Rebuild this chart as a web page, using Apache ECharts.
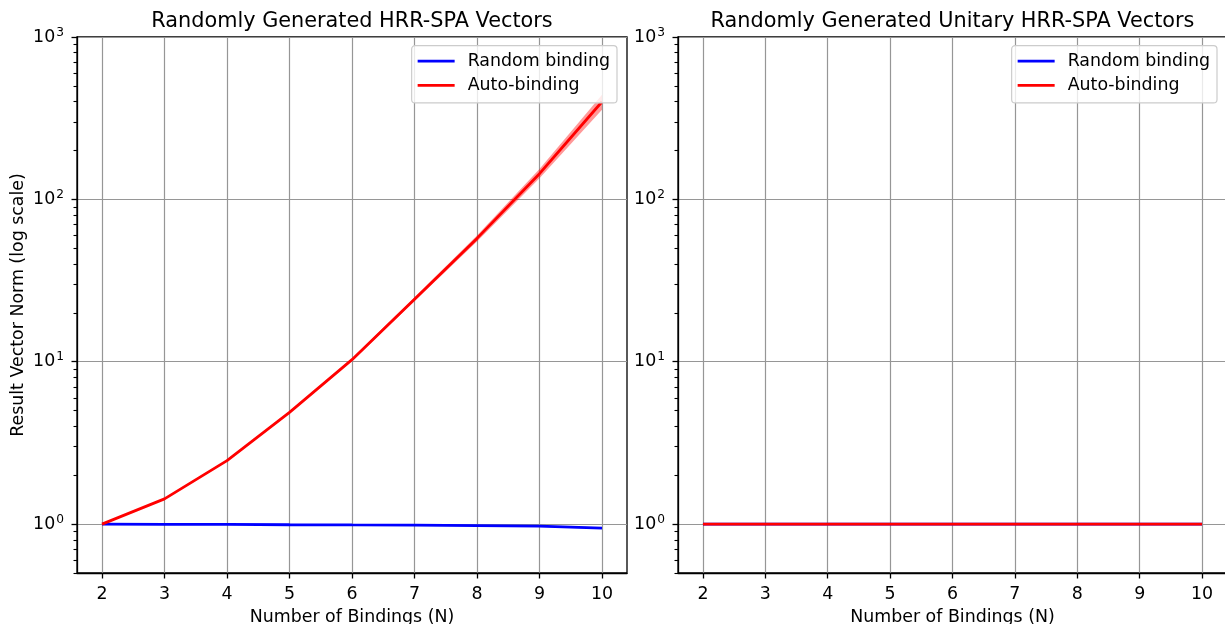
<!DOCTYPE html>
<html>
<head>
<meta charset="utf-8">
<script src="https://cdn.jsdelivr.net/npm/echarts@6/dist/echarts.min.js"></script>
<style>
  html, body { margin: 0; padding: 0; background: #fff; }
  #chart { width: 1225px; height: 624px; }
</style>
</head>
<body>
<div id="chart"></div>
<script>
// Number of bindings on the x axis
const bindings = [2, 3, 4, 5, 6, 7, 8, 9, 10];

// Left panel: random HRR-SPA vectors (mean and +/- one std band)
const randomMean = [1.0, 0.996, 0.997, 0.991, 0.988, 0.987, 0.979, 0.971, 0.945];
const randomLow  = [1.0, 0.992, 0.992, 0.985, 0.981, 0.979, 0.970, 0.961, 0.933];
const randomHigh = [1.0, 1.000, 1.002, 0.997, 0.995, 0.995, 0.988, 0.981, 0.957];

const autoMean = [1.0, 1.43, 2.46, 4.88, 10.3, 24.3, 57.5, 144, 399];
const autoLow  = [1.0, 1.42, 2.43, 4.80, 10.1, 23.6, 55.0, 135, 357];
const autoHigh = [1.0, 1.44, 2.49, 4.96, 10.5, 25.0, 60.0, 154, 441];

// Right panel: unitary vectors keep a norm of one
const unitRandomMean = [1, 1, 1, 1, 1, 1, 1, 1, 1];
const unitAutoMean   = [1, 1, 1, 1, 1, 1, 1, 1, 1];

// Tick values
const xTicks = [2, 3, 4, 5, 6, 7, 8, 9, 10];
const yMajorTicks = [1, 10, 100, 1000];
const yMinorTicks = [0.5, 0.6, 0.7, 0.8, 0.9,
  2, 3, 4, 5, 6, 7, 8, 9,
  20, 30, 40, 50, 60, 70, 80, 90,
  200, 300, 400, 500, 600, 700, 800, 900];

const seriesNames = ['Random binding', 'Auto-binding'];
const titles = ['Randomly Generated HRR-SPA Vectors', 'Randomly Generated Unitary HRR-SPA Vectors'];

const FONT = 'DejaVu Sans';
const BLUE = '#0000ff';
const RED = '#ff0000';
const GRID_LINE = '#969696';

const pairs = (ys) => bindings.map((x, i) => [x, ys[i]]);

function bandSeries(xi, yi, low, high, color) {
  return {
    type: 'custom',
    xAxisIndex: xi,
    yAxisIndex: yi,
    silent: true,
    data: [[bindings[0], low[0]]],
    renderItem: function (params, api) {
      const pts = [];
      for (let i = 0; i < bindings.length; i++) pts.push(api.coord([bindings[i], high[i]]));
      for (let i = bindings.length - 1; i >= 0; i--) pts.push(api.coord([bindings[i], low[i]]));
      return { type: 'polygon', shape: { points: pts }, style: { fill: color, stroke: null } };
    }
  };
}

function lineSeries(name, xi, yi, ys, color) {
  return {
    name: name,
    type: 'line',
    xAxisIndex: xi,
    yAxisIndex: yi,
    data: pairs(ys),
    showSymbol: false,
    symbol: 'none',
    lineStyle: { color: color, width: 2.8 },
    itemStyle: { color: color },
    emphasis: { disabled: true },
    silent: true
  };
}

function xAxis(gridIndex) {
  return {
    type: 'value',
    gridIndex: gridIndex,
    position: 'bottom',
    min: 1.6,
    max: 10.4,
    name: 'Number of Bindings (N)',
    nameLocation: 'middle',
    nameGap: 36,
    nameTextStyle: { fontFamily: FONT, fontSize: 17.4, color: '#000' },
    axisLine: { show: true, onZero: false, lineStyle: { color: '#000', width: 1.3 } },
    axisTick: { show: true, length: 5.5, customValues: xTicks, lineStyle: { color: '#000', width: 1.3 } },
    axisLabel: { customValues: xTicks, margin: 13, fontFamily: FONT, fontSize: 17.4, color: '#000' },
    splitLine: { show: true, lineStyle: { color: GRID_LINE, width: 1.2 } }
  };
}

function yMajorAxis(gridIndex, withName) {
  return {
    type: 'log',
    logBase: 10,
    gridIndex: gridIndex,
    position: 'left',
    min: 0.5,
    max: 1000,
    name: withName ? 'Result Vector Norm (log scale)' : '',
    nameLocation: 'middle',
    nameGap: 50,
    nameRotate: 90,
    nameTextStyle: { fontFamily: FONT, fontSize: 17.4, color: '#000' },
    axisLine: { show: true, lineStyle: { color: '#000', width: 1.3 } },
    axisTick: { show: true, length: 5.5, customValues: yMajorTicks, lineStyle: { color: '#000', width: 1.3 } },
    axisLabel: {
      customValues: yMajorTicks,
      margin: 13,
      color: '#000',
      formatter: function (v) {
        const e = Math.round(Math.log10(v));
        return '{b|10}{s|' + e + '}';
      },
      rich: {
        b: { fontFamily: FONT, fontSize: 17.4, color: '#000' },
        s: { fontFamily: FONT, fontSize: 12.2, color: '#000', padding: [0, 0, 9, 1] }
      }
    },
    splitLine: { show: true, lineStyle: { color: GRID_LINE, width: 1.2 } },
    minorTick: { show: false },
    minorSplitLine: { show: false }
  };
}

function yMinorAxis(gridIndex) {
  return {
    type: 'log',
    logBase: 10,
    gridIndex: gridIndex,
    position: 'left',
    offset: 0,
    min: 0.5,
    max: 1000,
    axisLine: { show: false },
    axisTick: { show: true, length: 3.5, customValues: yMinorTicks, lineStyle: { color: '#000', width: 1.1 } },
    axisLabel: { show: false },
    splitLine: { show: false }
  };
}

function legend(right) {
  return {
    data: seriesNames,
    orient: 'vertical',
    right: right,
    top: 45.7,
    icon: 'rect',
    itemWidth: 37,
    itemHeight: 2.8,
    itemGap: 3.6,
    selectedMode: false,
    padding: [5.2, 7, 7.2, 6],
    backgroundColor: 'rgba(255,255,255,0.8)',
    borderColor: '#cccccc',
    borderWidth: 1.2,
    borderRadius: 3.5,
    textStyle: { fontFamily: FONT, fontSize: 17.4, color: '#000', lineHeight: 20.6, padding: [0, 0, 0, 8] }
  };
}

const chart = echarts.init(document.getElementById('chart'), null, { renderer: 'canvas' });

const gridBase = {
  top: 37, height: 536, show: true, borderColor: '#000', borderWidth: 1.3,
  backgroundColor: 'transparent', containLabel: false, outerBoundsMode: 'none'
};

chart.setOption({
  animation: false,
  backgroundColor: '#fff',
  textStyle: { fontFamily: FONT },
  grid: [
    Object.assign({ left: 77, width: 550 }, gridBase),
    Object.assign({ left: 678, width: 549 }, gridBase)
  ],
  graphic: [
    { type: 'text', x: 352, y: 11, style: { text: titles[0], fontFamily: FONT, fontSize: 20.8, fill: '#000', align: 'center', verticalAlign: 'top' } },
    { type: 'text', x: 952.5, y: 11, style: { text: titles[1], fontFamily: FONT, fontSize: 20.8, fill: '#000', align: 'center', verticalAlign: 'top' } }
  ],
  legend: [legend(608), legend(8)],
  xAxis: [xAxis(0), xAxis(1)],
  yAxis: [yMajorAxis(0, true), yMinorAxis(0), yMajorAxis(1, false), yMinorAxis(1)],
  series: [
    bandSeries(0, 0, randomLow, randomHigh, 'rgba(0,0,255,0.35)'),
    bandSeries(0, 0, autoLow, autoHigh, 'rgba(255,0,0,0.4)'),
    lineSeries(seriesNames[0], 0, 0, randomMean, BLUE),
    lineSeries(seriesNames[1], 0, 0, autoMean, RED),
    lineSeries(seriesNames[0], 1, 2, unitRandomMean, BLUE),
    lineSeries(seriesNames[1], 1, 2, unitAutoMean, RED)
  ]
});
</script>
</body>
</html>
